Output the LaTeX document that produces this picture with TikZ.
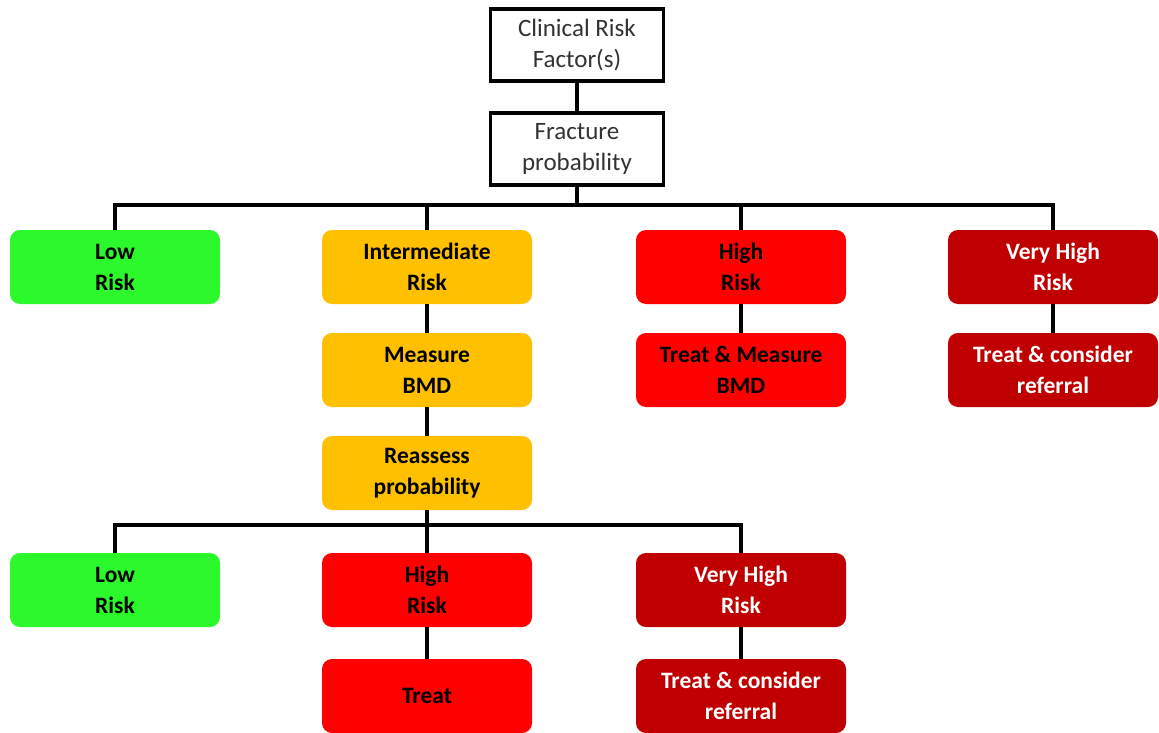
\documentclass[tikz,border=0pt]{standalone}
\usepackage{fontspec}
\setmainfont{Carlito}
\definecolor{lowgreen}{HTML}{2CF92C}
\definecolor{midamber}{HTML}{FFC000}
\definecolor{highred}{HTML}{FF0000}
\definecolor{vhighred}{HTML}{C00000}
\tikzset{
  plainbox/.style={draw=black, line width=3.2pt, fill=white, text=black!80,
    minimum width=173pt, minimum height=72pt, align=center, inner sep=0pt,
    font=\fontsize{25}{31}\selectfont},
  riskbox/.style={fill=#1, rounded corners=10pt, minimum width=210pt,
    minimum height=74pt, align=center, inner sep=0pt,
    font=\fontsize{23.5}{31}\selectfont\bfseries},
  link/.style={line width=3.2pt, black}
}
\begin{document}
\begin{tikzpicture}[x=1pt,y=-1pt]
  \useasboundingbox (0,0) rectangle (1159,733);
  % top of the tree
  \node[plainbox] (crf) at (577,45) {Clinical Risk\\Factor(s)};
  \node[plainbox] (frac) at (577,149) {Fracture\\probability};
  % first level
  \node[riskbox=lowgreen] (low) at (115,267) {Low\\Risk};
  \node[riskbox=midamber] (mid) at (427,267) {Intermediate\\Risk};
  \node[riskbox=highred] (high) at (741,267) {High\\Risk};
  \node[riskbox=vhighred, text=white] (vhigh) at (1053,267) {Very High\\Risk};
  \node[riskbox=midamber] (bmd) at (427,370) {Measure\\BMD};
  \node[riskbox=highred] (treatbmd) at (741,370) {Treat \& Measure\\BMD};
  \node[riskbox=vhighred, text=white] (refer) at (1053,370) {Treat \& consider\\referral};
  \node[riskbox=midamber] (reass) at (427,473) {Reassess\\probability};
  % after reassessment
  \node[riskbox=lowgreen] (lowb) at (115,590) {Low\\Risk};
  \node[riskbox=highred] (highb) at (427,590) {High\\Risk};
  \node[riskbox=vhighred, text=white] (vhighb) at (741,590) {Very High\\Risk};
  \node[riskbox=highred] (treat) at (427,696) {Treat};
  \node[riskbox=vhighred, text=white] (referb) at (741,696) {Treat \& consider\\referral};
  % connectors
  \coordinate (busa) at (577,205);
  \coordinate (busb) at (427,525);
  \draw[link] (crf) -- (frac);
  \draw[link] (frac) -- (busa);
  \draw[link] (busa) -| (low);
  \draw[link] (busa) -| (mid);
  \draw[link] (busa) -| (high);
  \draw[link] (busa) -| (vhigh);
  \draw[link] (mid) -- (bmd);
  \draw[link] (bmd) -- (reass);
  \draw[link] (high) -- (treatbmd);
  \draw[link] (vhigh) -- (refer);
  \draw[link] (reass) -- (busb);
  \draw[link] (busb) -| (lowb);
  \draw[link] (busb) -- (highb);
  \draw[link] (busb) -| (vhighb);
  \draw[link] (highb) -- (treat);
  \draw[link] (vhighb) -- (referb);
\end{tikzpicture}
\end{document}
